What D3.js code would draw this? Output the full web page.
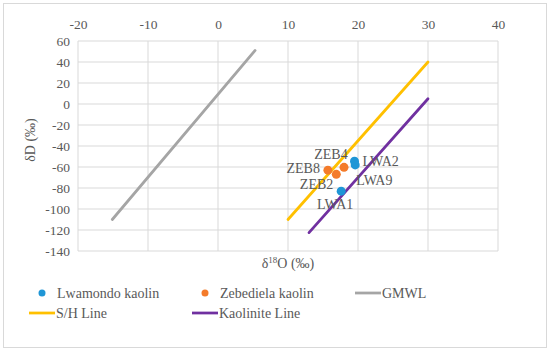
<!DOCTYPE html>
<html>
<head>
<meta charset="utf-8">
<script src="https://cdn.jsdelivr.net/npm/d3@7"></script>
<style>
  body { margin: 0; background: #fff; }
  svg text { font-family: "Liberation Serif", serif; fill: #595959; }
</style>
</head>
<body>
<div id="chart"></div>
<script>
// sample points
var lwamondoNames = ["LWA2", "LWA9", "LWA1"];
var lwamondoO = [19.5, 19.6, 17.6];
var lwamondoD = [-54.5, -58, -83];

var zebedielaNames = ["ZEB8", "ZEB2", "ZEB4"];
var zebedielaO = [15.7, 16.9, 18.0];
var zebedielaD = [-63, -67, -60.3];

// reference lines (end points)
var gmwlO = [-15.1, 5.3];
var gmwlD = [-110, 51];
var shO = [10, 30];
var shD = [-110, 40];
var kaolO = [13, 30];
var kaolD = [-122.5, 5];

var xTicks = [-20, -10, 0, 10, 20, 30, 40];
var yTicks = [60, 40, 20, 0, -20, -40, -60, -80, -100, -120, -140];

var svgWidth = 550;
var svgHeight = 353;

var margin = { top: 41, right: 52, bottom: 102, left: 78 };
var width = svgWidth - margin.left - margin.right;
var height = svgHeight - margin.top - margin.bottom;

var svg = d3.select("#chart")
  .append("svg")
  .attr("width", svgWidth)
  .attr("height", svgHeight)
  .attr("font-family", "Liberation Serif, serif");

// outer frame
svg.append("rect")
  .attr("x", 3.5).attr("y", 3.5)
  .attr("width", 543).attr("height", 344)
  .attr("fill", "none")
  .attr("stroke", "#d9d9d9");

var chartGroup = svg.append("g")
  .attr("transform", `translate(${margin.left}, ${margin.top})`);

var x = d3.scaleLinear().domain([-20, 40]).range([0, width]);
var y = d3.scaleLinear().domain([-140, 60]).range([height, 0]);

// gridlines
chartGroup.append("g")
  .selectAll("line")
  .data(xTicks)
  .enter()
  .append("line")
  .attr("x1", d => x(d)).attr("x2", d => x(d))
  .attr("y1", 0).attr("y2", height)
  .attr("stroke", "#d9d9d9");

chartGroup.append("g")
  .selectAll("line")
  .data(yTicks)
  .enter()
  .append("line")
  .attr("x1", 0).attr("x2", width)
  .attr("y1", d => y(d)).attr("y2", d => y(d))
  .attr("stroke", "#d9d9d9");

// axes (labels only), plain hyphen minus like the original
var topAxis = d3.axisTop(x).tickValues(xTicks).tickSize(0).tickPadding(12)
  .tickFormat(d => String(d));
var leftAxis = d3.axisLeft(y).tickValues(yTicks).tickSize(0).tickPadding(8)
  .tickFormat(d => String(d));

var xAxis = chartGroup.append("g").call(topAxis);
var yAxis = chartGroup.append("g").call(leftAxis);
[xAxis, yAxis].forEach(function(a) {
  a.attr("font-family", "Liberation Serif, serif").attr("font-size", 13.5);
  a.select(".domain").remove();
  a.selectAll("text").attr("fill", "#595959");
});

// axis titles
svg.append("text")
  .attr("x", 288)
  .attr("y", 268)
  .attr("text-anchor", "middle")
  .style("font-size", "14px")
  .html("δ<tspan baseline-shift='super' font-size='9px'>18</tspan>O (‰)");

svg.append("text")
  .attr("transform", "translate(35, 140) rotate(-90)")
  .attr("text-anchor", "middle")
  .style("font-size", "14px")
  .text("δD (‰)");

// reference lines
function drawLine(xs, ys, color, w) {
  var pts = xs.map((d, i) => [x(d), y(ys[i])]);
  chartGroup.append("path")
    .attr("d", d3.line()(pts))
    .attr("fill", "none")
    .attr("stroke", color)
    .attr("stroke-width", w)
    .attr("stroke-linecap", "round");
}
drawLine(gmwlO, gmwlD, "#a5a5a5", 2.75);
drawLine(shO, shD, "#ffc000", 2.75);
drawLine(kaolO, kaolD, "#7030a0", 2.75);

// points
var lwaData = lwamondoNames.map((n, i) => ({ name: n, o: lwamondoO[i], d: lwamondoD[i] }));
var zebData = zebedielaNames.map((n, i) => ({ name: n, o: zebedielaO[i], d: zebedielaD[i] }));

chartGroup.selectAll(".zeb")
  .data(zebData)
  .enter()
  .append("circle")
  .attr("class", "zeb")
  .attr("cx", d => x(d.o))
  .attr("cy", d => y(d.d))
  .attr("r", 4.5)
  .attr("fill", "#f47b2a");

chartGroup.selectAll(".lwa")
  .data(lwaData)
  .enter()
  .append("circle")
  .attr("class", "lwa")
  .attr("cx", d => x(d.o))
  .attr("cy", d => y(d.d))
  .attr("r", 4.5)
  .attr("fill", "#1f96d6");

// label placement beside each point
var labelOffset = {
  LWA2: [8, 5, "start"],
  LWA9: [1, 20, "start"],
  LWA1: [-6, 18, "middle"],
  ZEB8: [-8, 3, "end"],
  ZEB2: [-3, 15, "end"],
  ZEB4: [-13, -8, "middle"]
};

chartGroup.selectAll(".ptlabel")
  .data(lwaData.concat(zebData))
  .enter()
  .append("text")
  .attr("class", "ptlabel")
  .attr("x", d => x(d.o) + labelOffset[d.name][0])
  .attr("y", d => y(d.d) + labelOffset[d.name][1])
  .attr("text-anchor", d => labelOffset[d.name][2])
  .style("font-size", "14px")
  .text(d => d.name);

// legend
var legend = svg.append("g");
var legendItems = [
  { label: "Lwamondo kaolin", type: "dot", color: "#1f96d6", x: 42, y: 294 },
  { label: "Zebediela kaolin", type: "dot", color: "#f47b2a", x: 205, y: 294 },
  { label: "GMWL", type: "line", color: "#a5a5a5", x: 368, y: 294 },
  { label: "S/H Line", type: "line", color: "#ffc000", x: 42, y: 314 },
  { label: "Kaolinite Line", type: "line", color: "#7030a0", x: 205, y: 314 }
];
legendItems.forEach(function(it) {
  if (it.type === "dot") {
    legend.append("circle")
      .attr("cx", it.x).attr("cy", it.y - 1).attr("r", 3.5)
      .attr("fill", it.color);
  } else {
    legend.append("line")
      .attr("x1", it.x - 13).attr("x2", it.x + 13)
      .attr("y1", it.y - 1).attr("y2", it.y - 1)
      .attr("stroke", it.color).attr("stroke-width", 2.75);
  }
  legend.append("text")
    .attr("x", it.type === "dot" ? it.x + 15 : it.x + 14)
    .attr("y", it.y + 4)
    .style("font-size", "14px")
    .text(it.label);
});
</script>
</body>
</html>
